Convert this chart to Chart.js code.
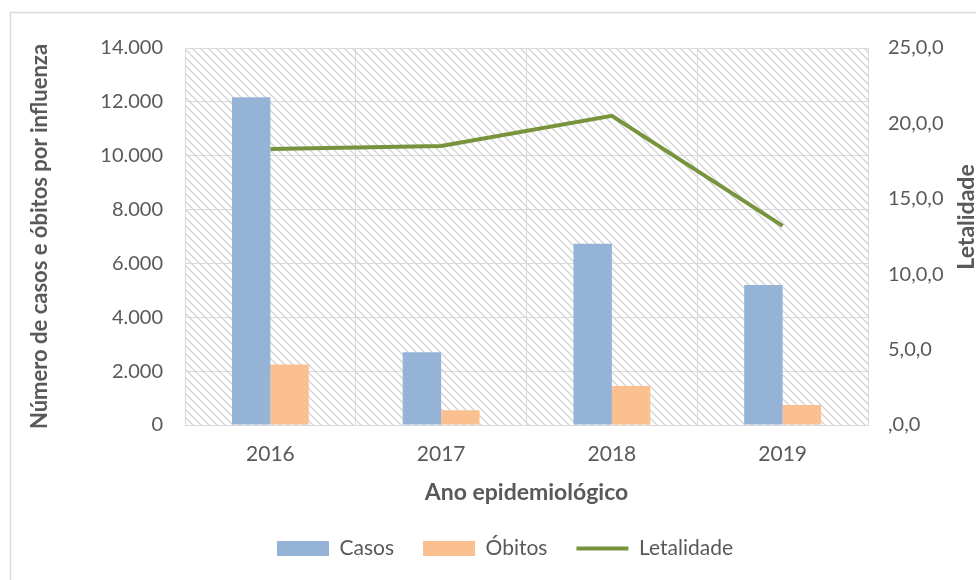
<!DOCTYPE html>
<html>
<head>
<meta charset="utf-8">
<script src="https://cdn.jsdelivr.net/npm/chart.js@4"></script>
<style>
  body { margin: 0; background: #fff; }
  #wrap { width: 976px; height: 580px; }
</style>
</head>
<body>
<div id="wrap"><canvas id="js--chart"></canvas></div>
<script>
const anos = ["2016", "2017", "2018", "2019"];
const casos = [12170, 2700, 6730, 5200];
const obitos = [2250, 550, 1450, 740];
const letalidade = [18.3, 18.5, 20.5, 13.2];

const leftTicks = [0, 2000, 4000, 6000, 8000, 10000, 12000, 14000];
const rightTicks = [0, 5, 10, 15, 20, 25];

const fonte = "Lato, 'Open Sans', sans-serif";
const cinza = "#595959";
const grade = "#d9d9d9";

// hatched background of the plot area
function makePattern() {
  const c = document.createElement("canvas");
  c.width = 8;
  c.height = 8;
  const g = c.getContext("2d");
  g.strokeStyle = "#d6d6d6";
  g.lineWidth = 1.5;
  g.beginPath();
  g.moveTo(-1, -1); g.lineTo(9, 9);
  g.moveTo(7, -1); g.lineTo(9, 1);
  g.moveTo(-1, 7); g.lineTo(1, 9);
  g.stroke();
  return c;
}

const fundo = {
  id: "fundo",
  beforeDraw: function (chart) {
    const ctx = chart.ctx;
    const a = chart.chartArea;
    ctx.save();
    ctx.fillStyle = "#fff";
    ctx.fillRect(0, 0, chart.width, chart.height);
    ctx.strokeStyle = grade;
    ctx.lineWidth = 1.5;
    ctx.strokeRect(10.5, 12.5, chart.width + 20, chart.height + 20);
    ctx.fillStyle = ctx.createPattern(makePattern(), "repeat");
    ctx.fillRect(a.left, a.top, a.right - a.left, a.bottom - a.top);
    ctx.restore();
  },
  afterDraw: function (chart) {
    // right axis title reads bottom to top, like the left one
    const ctx = chart.ctx;
    ctx.save();
    ctx.translate(967, 217);
    ctx.rotate(-Math.PI / 2);
    ctx.font = "bold 23px " + fonte;
    ctx.fillStyle = cinza;
    ctx.textAlign = "center";
    ctx.textBaseline = "middle";
    ctx.fillText("Letalidade", 0, 0);
    ctx.restore();
  }
};

const data = {
  labels: anos,
  datasets: [
    {
      type: "bar",
      label: "Casos",
      data: casos,
      backgroundColor: "#95B3D7",
      yAxisID: "y",
      categoryPercentage: 0.45,
      barPercentage: 1,
    },
    {
      type: "bar",
      label: "Óbitos",
      data: obitos,
      backgroundColor: "#FAC090",
      yAxisID: "y",
      categoryPercentage: 0.45,
      barPercentage: 1,
    },
    {
      type: "line",
      label: "Letalidade",
      data: letalidade,
      borderColor: "#77933C",
      backgroundColor: "#77933C",
      borderWidth: 4,
      pointRadius: 0,
      tension: 0,
      yAxisID: "y1",
    },
  ],
};

const config = {
  type: "bar",
  data: data,
  plugins: [fundo],
  options: {
    responsive: true,
    maintainAspectRatio: false,
    animation: false,
    layout: { padding: { top: 48, left: 34, right: 0, bottom: 11 } },
    plugins: {
      tooltip: { enabled: false },
      legend: {
        position: "bottom",
        labels: {
          font: { family: fonte, size: 21 },
          color: cinza,
          usePointStyle: true,
          pointStyleWidth: 52,
          boxHeight: 15,
          padding: 29,
          generateLabels: function (chart) {
            const items = Chart.defaults.plugins.legend.labels.generateLabels(chart);
            items.forEach(function (item, i) {
              item.pointStyle = i === 2 ? "line" : "rect";
              if (i !== 2) item.lineWidth = 0;
            });
            return items;
          },
        },
      },
    },
    scales: {
      x: {
        grid: { color: grade, lineWidth: 1, drawTicks: false, offset: true },
        border: { color: grade },
        ticks: { font: { family: fonte, size: 21 }, color: cinza, padding: 17 },
        title: {
          display: true,
          text: "Ano epidemiológico",
          font: { family: fonte, size: 23, weight: "bold" },
          color: cinza,
          padding: { top: 4, bottom: 3 },
        },
        afterFit: function (scale) { scale.height = 84; },
      },
      y: {
        position: "left",
        min: 0,
        max: 14000,
        afterBuildTicks: function (scale) {
          scale.ticks = leftTicks.map(function (v) { return { value: v }; });
        },
        grid: { color: grade, lineWidth: 1, drawTicks: false },
        border: { color: grade },
        ticks: {
          font: { family: fonte, size: 20 },
          color: cinza,
          padding: 22,
          callback: function (v) {
            return String(v).replace(/\B(?=(\d{3})+(?!\d))/g, ".");
          },
        },
        title: {
          display: true,
          text: "Número de casos e óbitos por influenza",
          font: { family: fonte, size: 22, weight: "bold" },
          color: cinza,
          padding: { top: -7, bottom: 4 },
        },
        afterFit: function (scale) { scale.width = 151; },
      },
      y1: {
        position: "right",
        min: 0,
        max: 25,
        afterBuildTicks: function (scale) {
          scale.ticks = rightTicks.map(function (v) { return { value: v }; });
        },
        grid: { drawOnChartArea: false, drawTicks: false },
        border: { display: false },
        ticks: {
          font: { family: fonte, size: 20 },
          color: cinza,
          padding: 20,
          callback: function (v) {
            return v === 0 ? ",0,0" : v + ",0,0";
          },
        },
        afterFit: function (scale) { scale.width = 108; },
      },
    },
  },
};

new Chart(document.getElementById("js--chart"), config);
</script>
</body>
</html>
